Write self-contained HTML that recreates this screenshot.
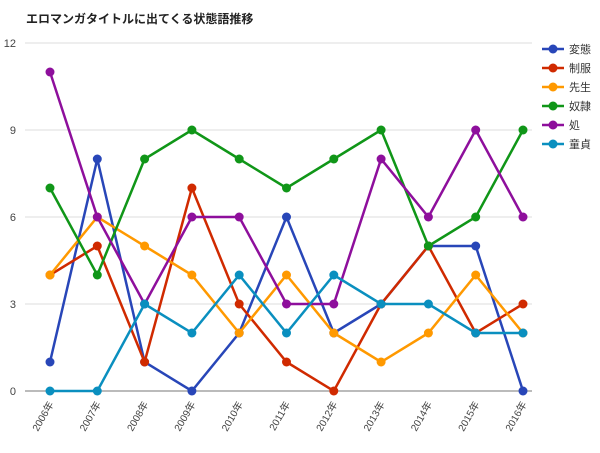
<!DOCTYPE html>
<html><head><meta charset="utf-8"><style>
body{margin:0;background:#fff;font-family:"Liberation Sans","Noto Sans CJK JP",sans-serif}
</style></head><body>
<svg width="600" height="448" id="c" xmlns="http://www.w3.org/2000/svg">
<text x="26" y="23" font-size="12" font-weight="bold" fill="#222" font-family="Liberation Sans, Noto Sans CJK JP, sans-serif">エロマンガタイトルに出てくる状態語推移</text>
<g id="grid"></g><g id="series"></g><g id="legend"></g>
</svg>
<script>
const categories=["2006年","2007年","2008年","2009年","2010年","2011年","2012年","2013年","2014年","2015年","2016年"];
const seriesNames=["変態","制服","先生","奴隷","処","童貞"];
const s0=[1,8,1,0,2,6,2,3,5,5,0];
const s1=[4,5,1,7,3,1,0,3,5,2,3];
const s2=[4,6,5,4,2,4,2,1,2,4,2];
const s3=[7,4,8,9,8,7,8,9,5,6,9];
const s4=[11,6,3,6,6,3,3,8,6,9,6];
const s5=[0,0,3,2,4,2,4,3,3,2,2];
const yTicks=[0,3,6,9,12];
const colors=["#2846b8","#d02a00","#ff9900","#109618","#8e0f9c","#0a8fbf"];
const allSeries=[s0,s1,s2,s3,s4,s5];
const NS="http://www.w3.org/2000/svg";
const X=i=>50+i*47.3, Y=v=>391-v*29;
function mk(t,a,p){const e=document.createElementNS(NS,t);for(const k in a)e.setAttribute(k,a[k]);p.appendChild(e);return e;}
const g=document.getElementById('grid');
yTicks.forEach(v=>{
 const l=mk('line',{x1:25,x2:532,y1:Y(v),y2:Y(v),stroke:v===0?'#777':'#ddd','stroke-width':1},g);
 
 
 const t=mk('text',{x:16,y:Y(v)+4,'font-size':11,fill:'#444','text-anchor':'end'},g);
 t.textContent=v;
 
 
});
categories.forEach((c,i)=>{
 const t=mk('text',{x:X(i)+4,y:404,'font-size':10,fill:'#444','text-anchor':'end',transform:`rotate(-60 ${X(i)+4} 404)`},g);
 t.textContent=c;
 
 
});
const sg=document.getElementById('series');
allSeries.forEach((s,k)=>{
 const p=mk('polyline',{points:s.map((v,i)=>X(i)+','+Y(v)).join(' '),fill:'none',stroke:colors[k],'stroke-width':2.5},sg);
 
 
 s.forEach((v,i)=>{
  const c=mk('circle',{cx:X(i),cy:Y(v),r:4.5,fill:colors[k]},sg);
  
  
 });
});
const lg=document.getElementById('legend');
seriesNames.forEach((n,k)=>{
 const y=49+k*19;
 const e=mk('g',{},lg);
 
 
 mk('line',{x1:542,x2:564,y1:y,y2:y,stroke:colors[k],'stroke-width':2.5},e);
 mk('circle',{cx:553,cy:y,r:4.5,fill:colors[k]},e);
 const t=mk('text',{x:569,y:y+4,'font-size':11,fill:'#333'},e);
 t.textContent=n;
});
</script>
</body></html>
